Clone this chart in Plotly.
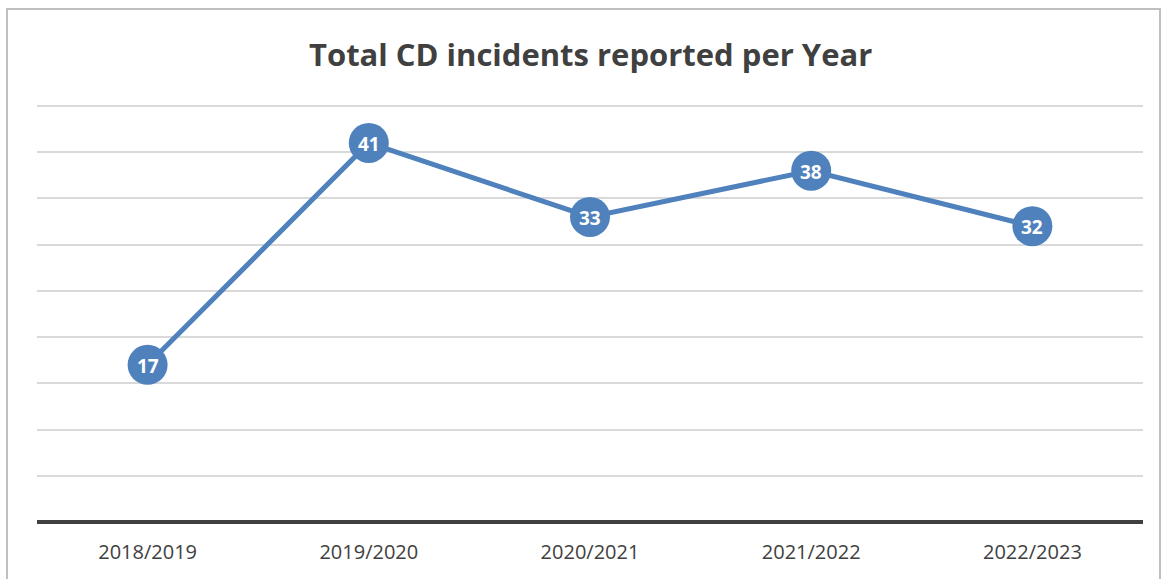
import plotly.graph_objects as go

years = ["2018/2019", "2019/2020", "2020/2021", "2021/2022", "2022/2023"]
incidents = [17, 41, 33, 38, 32]

W, H = 1165, 579
L, R, T, B = 37, 22, 102, 57
pw, ph = W - L - R, H - T - B
unit = (522 - 106) / 45.0
ytop = ph / unit

def px_x(x):
    return (x - L) / pw

def px_y(y):
    return (H - B - y) / ph

fig = go.Figure()
fig.add_trace(go.Scatter(
    x=years, y=incidents, mode="lines+markers",
    line=dict(color="#4f81bd", width=5),
    marker=dict(size=40, color="#4f81bd", line=dict(width=0)),
    hoverinfo="skip", showlegend=False, cliponaxis=False,
))

for xv, yv in zip(years, incidents):
    fig.add_annotation(x=xv, y=yv, text=f"<b>{yv}</b>", showarrow=False,
                       xanchor="center", yanchor="middle", yshift=-1,
                       font=dict(color="white", size=19, family="Open Sans"))

fig.update_layout(
    width=W, height=H,
    margin=dict(l=L, r=R, t=T, b=B, autoexpand=False),
    paper_bgcolor="white", plot_bgcolor="white",
    title=dict(text="<b>Total CD incidents reported per Year</b>",
               x=0.507, xanchor="center", y=1 - 55 / H, yanchor="middle",
               font=dict(size=31, color="#404040", family="Open Sans")),
    xaxis=dict(range=[-0.5, 4.5], showgrid=False, showline=False, zeroline=False,
               ticks="", tickfont=dict(size=20, color="#404040", family="Open Sans"),
               ticklabelstandoff=16),
    yaxis=dict(range=[0, ytop], dtick=5, showticklabels=False, showgrid=True,
               gridcolor="#d9d9d9", gridwidth=2, zeroline=True,
               zerolinecolor="#404040", zerolinewidth=3.5, showline=False),
    shapes=[dict(type="rect", xref="paper", yref="paper",
                 x0=px_x(7), x1=px_x(1160), y0=px_y(600), y1=px_y(9),
                 line=dict(color="#bfbfbf", width=2), fillcolor="rgba(0,0,0,0)",
                 layer="below")],
)

fig.write_html("out.html")
